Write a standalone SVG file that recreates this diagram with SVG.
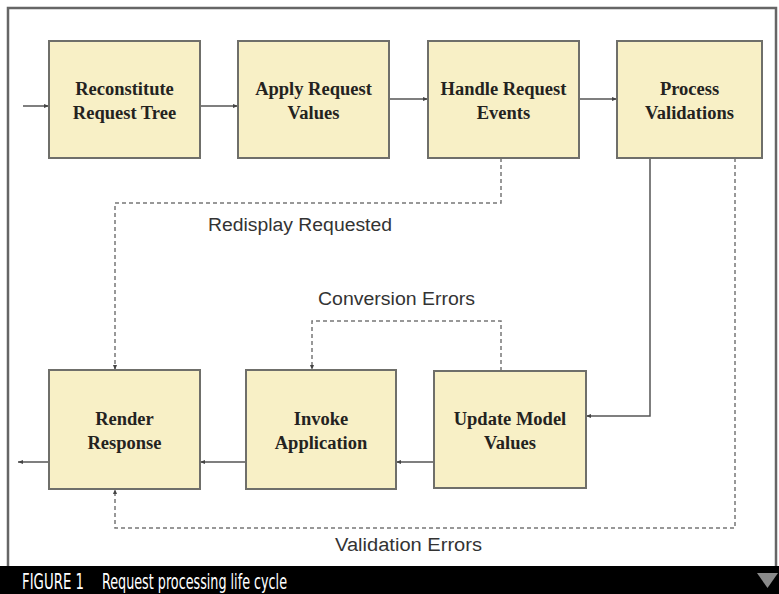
<svg xmlns="http://www.w3.org/2000/svg" width="779" height="594" viewBox="0 0 779 594">
  <style>
    .box rect { fill: #f8f0c6; stroke: #6f6f6a; stroke-width: 2; }
    .box text { font-family: "Liberation Serif", "Times New Roman", serif; font-weight: bold; font-size: 18.5px; fill: #24231f; text-anchor: middle; }
    .solid { fill: none; stroke: #555; stroke-width: 1.5; }
    .dash { fill: none; stroke: #777; stroke-width: 1.5; stroke-dasharray: 4 3; }
    .lbl { font-family: "Liberation Sans", Arial, sans-serif; font-size: 18px; fill: #333; }
    .cap { font-family: "DejaVu Sans Condensed", "Liberation Sans Narrow", sans-serif; font-size: 21px; fill: #fff; }
  </style>
  <defs>
    <marker id="ah" viewBox="0 0 10 10" refX="10" refY="5" markerWidth="5" markerHeight="5" orient="auto" markerUnits="userSpaceOnUse">
      <path d="M0,1 L10,5 L0,9 z" fill="#444"/>
    </marker>
  </defs>

  <!-- page background and frame -->
  <rect x="0" y="0" width="779" height="594" fill="#fff"/>
  <rect x="8" y="8" width="768" height="560" fill="#fff" stroke="#666" stroke-width="2.5"/>

  <!-- connectors -->
  <g id="connectors">
    <line class="solid" x1="23" y1="106" x2="49" y2="106" marker-end="url(#ah)"/>
    <line class="solid" x1="200" y1="106" x2="238" y2="106" marker-end="url(#ah)"/>
    <line class="solid" x1="389" y1="99" x2="428" y2="99" marker-end="url(#ah)"/>
    <line class="solid" x1="579" y1="99" x2="617" y2="99" marker-end="url(#ah)"/>
    <polyline class="solid" points="650,158 650,416 586,416" marker-end="url(#ah)"/>
    <line class="solid" x1="434" y1="462" x2="396" y2="462" marker-end="url(#ah)"/>
    <line class="solid" x1="246" y1="462" x2="200" y2="462" marker-end="url(#ah)"/>
    <line class="solid" x1="49" y1="462" x2="18" y2="462" marker-end="url(#ah)"/>
    <polyline class="dash" points="501,158 501,203 115,203 115,370" marker-end="url(#ah)"/>
    <polyline class="dash" points="501,371 501,321 312,321 312,370" marker-end="url(#ah)"/>
    <polyline class="dash" points="735,158 735,528 115,528 115,489" marker-end="url(#ah)"/>
    <text class="lbl" x="208" y="231" textLength="184" lengthAdjust="spacingAndGlyphs">Redisplay Requested</text>
    <text class="lbl" x="318" y="305" textLength="157" lengthAdjust="spacingAndGlyphs">Conversion Errors</text>
    <text class="lbl" x="335" y="551" textLength="147" lengthAdjust="spacingAndGlyphs">Validation Errors</text>
  </g>

  <!-- phases -->
  <g id="reconstitute" class="box">
    <rect x="49" y="41" width="151" height="117"/>
    <text x="124.5" y="95">Reconstitute</text>
    <text x="124.5" y="119">Request Tree</text>
  </g>
  <g id="apply" class="box">
    <rect x="238" y="41" width="151" height="117"/>
    <text x="313.5" y="95">Apply Request</text>
    <text x="313.5" y="119">Values</text>
  </g>
  <g id="handle" class="box">
    <rect x="428" y="41" width="151" height="117"/>
    <text x="503.5" y="95">Handle Request</text>
    <text x="503.5" y="119">Events</text>
  </g>
  <g id="process" class="box">
    <rect x="617" y="41" width="145" height="117"/>
    <text x="689.5" y="95">Process</text>
    <text x="689.5" y="119">Validations</text>
  </g>
  <g id="render" class="box">
    <rect x="49" y="370" width="151" height="119"/>
    <text x="124.5" y="425">Render</text>
    <text x="124.5" y="449">Response</text>
  </g>
  <g id="invoke" class="box">
    <rect x="246" y="370" width="150" height="119"/>
    <text x="321" y="425">Invoke</text>
    <text x="321" y="449">Application</text>
  </g>
  <g id="update" class="box">
    <rect x="434" y="371" width="152" height="117"/>
    <text x="510" y="425">Update Model</text>
    <text x="510" y="449">Values</text>
  </g>

  <!-- caption band -->
  <rect x="0" y="566" width="779" height="28" fill="#000"/>
  <text class="cap" x="22" y="589" textLength="62" lengthAdjust="spacingAndGlyphs">FIGURE 1</text>
  <text class="cap" x="102" y="589" textLength="185" lengthAdjust="spacingAndGlyphs">Request processing life cycle</text>
  <polygon points="757,573 778,573 767.5,588" fill="#8a8a8a"/>
</svg>
